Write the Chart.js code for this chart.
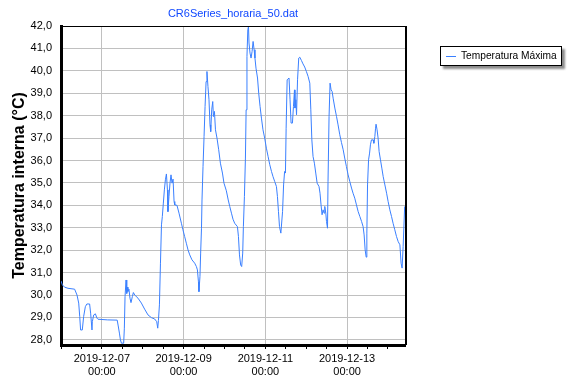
<!DOCTYPE html>
<html lang="es">
<head>
<meta charset="UTF-8">
<title>CR6Series_horaria_50.dat</title>
<script src="https://cdn.jsdelivr.net/npm/chart.js"></script>
<style>
  body { margin: 0; background: #fff; }
  #grafico { display: block; }
</style>
</head>
<body>
<canvas id="grafico" width="576" height="380"></canvas>
<script>
// Horas relativas a 2019-12-07 00:00
const horas = [
  -24.0, -23.2, -21.9, -19.9, -16.0, -14.6, -13.6, -13.0, -12.5, -11.5,
  -10.7, -9.7, -8.8, -7.2, -6.6, -5.8, -5.6, -4.8, -3.8, -2.9,
  -2.3, 3.4, 9.0, 9.6, 10.3, 10.9, 11.5, 12.8, 13.2, 13.6,
  14.2, 14.6, 15.0, 15.3, 15.9, 16.5, 17.1, 17.9, 18.5, 19.3,
  21.2, 23.2, 25.1, 27.1, 29.1, 31.0, 32.2, 32.8, 33.2, 33.8,
  34.4, 35.0, 35.5, 36.1, 36.7, 37.3, 37.9, 38.5, 38.8, 39.4,
  40.0, 40.6, 41.2, 41.8, 42.4, 42.8, 44.1, 45.3, 46.7, 47.6,
  48.6, 49.6, 50.6, 51.6, 52.9, 54.5, 55.5, 56.1, 56.7, 57.0,
  57.6, 58.0, 58.5, 58.8, 59.4, 60.0, 60.6, 61.2, 61.7, 62.3,
  62.9, 63.5, 63.9, 64.5, 65.1, 65.5, 66.1, 66.7, 67.6, 68.6,
  69.6, 70.8, 71.7, 73.1, 74.2, 75.1, 76.1, 77.0, 78.0, 79.6,
  80.2, 80.8, 81.5, 82.1, 82.7, 83.1, 83.7, 84.3, 84.7, 85.2,
  85.7, 86.1, 86.4, 87.0, 87.6, 88.2, 88.8, 89.4, 89.9, 90.5,
  91.4, 92.1, 92.9, 93.7, 94.6, 95.6, 96.6, 97.6, 98.6, 99.6,
  100.5, 101.5, 102.5, 103.1, 103.7, 104.3, 105.1, 106.1, 106.7, 107.3,
  107.8, 108.2, 108.8, 109.9, 110.5, 111.1, 111.9, 112.5, 113.1, 113.4,
  113.9, 114.3, 114.9, 115.6, 116.2, 117.2, 118.1, 119.1, 120.1, 121.1,
  122.1, 122.7, 123.3, 124.0, 124.8, 125.6, 126.4, 127.5, 128.1, 128.7,
  129.3, 129.9, 130.5, 130.9, 131.5, 131.9, 132.5, 132.8, 133.4, 134.0,
  134.6, 135.2, 135.8, 136.8, 137.8, 138.7, 139.7, 140.7, 141.7, 142.6,
  143.6, 144.6, 145.6, 146.6, 147.5, 148.5, 149.5, 150.5, 151.5, 152.5,
  153.4, 154.0, 154.6, 155.2, 155.6, 156.0, 156.6, 157.2, 157.7, 158.3,
  159.3, 159.7, 160.3, 160.7, 161.0, 161.6, 162.2, 162.8, 163.6, 164.4,
  165.2, 166.2, 167.2, 168.1, 169.1, 170.1, 171.0, 172.0, 173.0, 174.0,
  175.0, 175.7, 176.3, 176.9, 177.8
];
const tempMax = [
  30.63, 30.45, 30.35, 30.30, 30.26, 30.00, 29.64, 29.04, 28.44, 28.44,
  29.04, 29.48, 29.60, 29.60, 29.19, 28.44, 28.81, 29.11, 29.16, 28.97,
  28.92, 28.89, 28.88, 28.62, 28.30, 28.00, 27.85, 27.85, 28.52, 29.93,
  30.67, 30.07, 30.35, 30.16, 30.26, 29.86, 29.66, 29.93, 30.11, 30.00,
  29.86, 29.64, 29.37, 29.11, 28.99, 28.93, 28.81, 28.52, 28.86, 29.56,
  31.42, 33.13, 33.50, 34.10, 34.69, 35.14, 35.40, 34.69, 33.72, 34.39,
  34.99, 35.36, 34.99, 35.17, 34.17, 34.02, 34.00, 33.65, 33.20, 32.91,
  32.61, 32.31, 32.01, 31.79, 31.57, 31.42, 31.27, 31.12, 30.60, 30.15,
  30.82, 31.87, 32.98, 34.24, 35.73, 37.07, 38.41, 39.52, 39.97, 39.30,
  38.71, 37.59, 37.29, 38.26, 38.63, 37.96, 38.19, 37.37, 37.00, 36.48,
  35.88, 35.44, 34.99, 34.65, 34.24, 33.95, 33.65, 33.38, 33.20, 33.05,
  32.61, 31.79, 31.34, 31.27, 31.87, 33.05, 34.39, 36.11, 38.26, 40.64,
  41.83, 41.98, 41.24, 40.79, 40.57, 40.86, 41.31, 40.94, 40.57, 40.12,
  39.68, 39.00, 38.41, 37.89, 37.37, 37.00, 36.55, 36.18, 35.81, 35.51,
  35.28, 35.06, 34.84, 34.39, 33.72, 33.05, 32.76, 33.72, 34.91, 35.51,
  35.44, 37.44, 39.60, 39.68, 38.71, 37.67, 37.67, 38.41, 39.15, 38.34,
  38.71, 38.04, 39.60, 40.57, 40.61, 40.46, 40.31, 40.17, 39.97, 39.75,
  39.45, 38.26, 36.92, 36.18, 35.88, 35.44, 34.99, 34.84, 34.54, 34.02,
  33.58, 33.80, 33.65, 33.95, 33.65, 33.28, 32.98, 35.06, 37.96, 39.45,
  39.15, 39.08, 38.78, 38.34, 37.96, 37.59, 37.15, 36.80, 36.48, 36.11,
  35.73, 35.36, 35.06, 34.77, 34.54, 34.32, 34.02, 33.72, 33.50, 33.28,
  33.05, 32.68, 32.01, 31.69, 32.76, 34.91, 36.03, 36.33, 36.70, 36.92,
  36.92, 36.77, 37.07, 37.44, 37.62, 37.37, 37.00, 36.40, 36.03, 35.66,
  35.28, 34.91, 34.54, 34.17, 33.80, 33.50, 33.20, 32.91, 32.61, 32.38,
  32.24, 31.42, 31.20, 32.16, 33.95
];
// etiquetas del eje X (cada 48 h)
const fechasEje = ['2019-12-07', '2019-12-09', '2019-12-11', '2019-12-13'];
const horaEje = '00:00';

const AZUL = '#3a80ff';
const fuente = "'Liberation Sans', Arial, sans-serif";
Chart.defaults.font.family = fuente;
Chart.defaults.font.size = 11;
Chart.defaults.color = '#000';

const puntos = horas.map((h, i) => ({ x: h, y: tempMax[i] }));

// titulo, bordes y leyenda al estilo del original
const marco = {
  id: 'marco',
  beforeDraw(chart) {
    const c = chart.ctx;
    c.save();
    c.fillStyle = '#fff';
    c.fillRect(0, 0, chart.width, chart.height);
    c.restore();
  },
  afterDraw(chart) {
    const c = chart.ctx, a = chart.chartArea;
    c.save();
    // borde superior y derecho
    c.strokeStyle = '#000';
    c.lineWidth = 1;
    c.beginPath();
    c.moveTo(a.left, a.top + 0.5);
    c.lineTo(a.right, a.top + 0.5);
    c.stroke();
    c.lineWidth = 2;
    c.beginPath();
    c.moveTo(a.right + 1, a.top);
    c.lineTo(a.right + 1, a.bottom);
    c.stroke();

    // titulo
    c.fillStyle = '#1048ff';
    c.font = '11px ' + fuente;
    c.textAlign = 'center';
    c.textBaseline = 'middle';
    c.fillText('CR6Series_horaria_50.dat', (a.left + a.right) / 2, 14);

    // leyenda
    const lx = 440, ly = 46, lw = 122, lh = 20;
    c.save();
    c.shadowColor = 'rgba(0,0,0,0.45)';
    c.shadowOffsetX = 3;
    c.shadowOffsetY = 3;
    c.shadowBlur = 2;
    c.fillStyle = '#fff';
    c.fillRect(lx, ly, lw, lh);
    c.restore();
    c.strokeStyle = '#000';
    c.lineWidth = 1;
    c.strokeRect(lx + 0.5, ly + 0.5, lw - 1, lh - 1);
    c.strokeStyle = AZUL;
    c.beginPath();
    c.moveTo(446, ly + 10.5);
    c.lineTo(456, ly + 10.5);
    c.stroke();
    c.fillStyle = '#000';
    c.textAlign = 'left';
    c.font = '10.2px ' + fuente;
    c.fillText(chart.data.datasets[0].label, 461, ly + 10.5);
    c.restore();
  }
};

new Chart(document.getElementById('grafico'), {
  type: 'line',
  data: {
    datasets: [{
      label: 'Temperatura Máxima',
      data: puntos,
      borderColor: AZUL,
      borderWidth: 1,
      pointRadius: 0,
      tension: 0,
      fill: false
    }]
  },
  options: {
    responsive: false,
    animation: false,
    layout: { padding: { top: 26, right: 171, left: 0, bottom: 0 } },
    plugins: {
      legend: { display: false },
      tooltip: { enabled: false }
    },
    scales: {
      x: {
        type: 'linear',
        min: -24,
        max: 178,
        afterFit: s => { s.height = 35; },
        border: { color: '#000', width: 3 },
        grid: {
          color: ctx => (ctx.tick && ctx.tick.value % 48 === 0) ? '#c0c0c0' : 'rgba(0,0,0,0)',
          tickColor: '#000',
          tickLength: 4,
          lineWidth: 1
        },
        ticks: {
          stepSize: 12,
          includeBounds: false,
          autoSkip: false,
          maxRotation: 0,
          minRotation: 0,
          padding: 3,
          font: { size: 11, lineHeight: 1.18 },
          callback: v => (v % 48 === 0 && fechasEje[v / 48] !== undefined) ? [fechasEje[v / 48], horaEje] : ''
        }
      },
      y: {
        min: 27.77,
        max: 42,
        afterFit: s => { s.width = 61; },
        border: { color: '#000', width: 3 },
        grid: { color: '#c0c0c0', lineWidth: 1, drawTicks: false },
        ticks: {
          stepSize: 1,
          includeBounds: false,
          padding: 9,
          callback: v => v.toFixed(1).replace('.', ',')
        },
        title: {
          display: true,
          text: 'Temperatura interna (°C)',
          font: { size: 16, weight: 'bold' },
          padding: { top: 10, bottom: 0 }
        }
      }
    }
  },
  plugins: [marco]
});
</script>
</body>
</html>
